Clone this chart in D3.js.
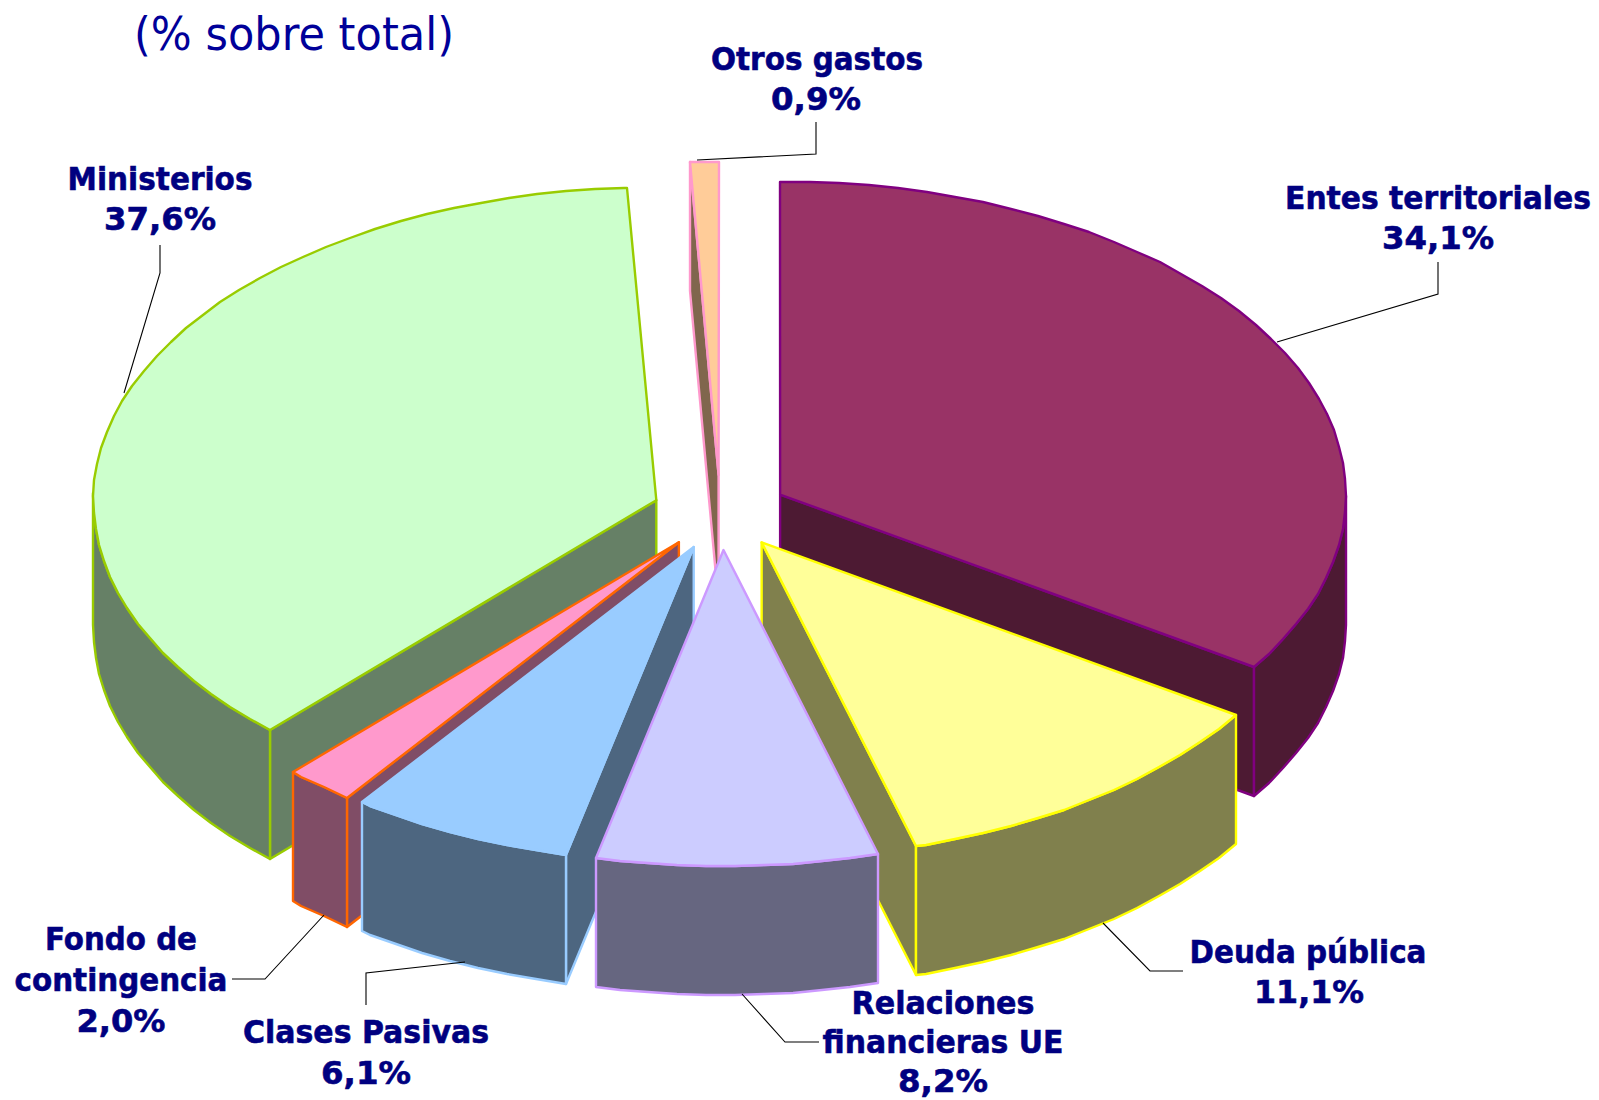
<!DOCTYPE html>
<html>
<head>
<meta charset="utf-8">
<script src="https://cdn.jsdelivr.net/npm/d3@7"></script>
<style>
  html, body { margin: 0; background: #fff; }
  svg { display: block; }
  text { font-family: "DejaVu Sans", sans-serif; fill: #000080; }
</style>
</head>
<body>
<div class="canvas"></div>
<script>
// Data
const categories = ['Entes territoriales', 'Deuda pública', 'Relaciones financieras UE', 'Clases Pasivas', 'Fondo de contingencia', 'Ministerios', 'Otros gastos'];
const shares = [34.1, 11.1, 8.2, 6.1, 2.0, 37.6, 0.9];

// Colours, same order as categories
const topColors = ['#993366', '#ffff99', '#ccccff', '#99ccff', '#ff99cc', '#ccffcc', '#ffcc99'];
const edgeColors = ['#800080', '#ffff00', '#cc99ff', '#99ccff', '#ff6600', '#99cc00', '#ff99cc'];

// Back to front
const drawOrder = [6, 0, 5, 4, 3, 1, 2];

// Label text lines with centre x, baseline and fitted width
const labelLines = [
  [['Entes territoriales', 1438, 209, 306], ['34,1%', 1438, 249, 112]],
  [['Deuda pública', 1308, 963, 237], ['11,1%', 1309, 1003, 110]],
  [['Relaciones', 943, 1014, 183], ['financieras UE', 943, 1053, 241], ['8,2%', 943, 1092, 90]],
  [['Clases Pasivas', 366, 1043, 246], ['6,1%', 366, 1084, 90]],
  [['Fondo de', 121, 950, 152], ['contingencia', 121, 991, 213], ['2,0%', 121, 1032, 89]],
  [['Ministerios', 160, 190, 185], ['37,6%', 160, 230, 112]],
  [['Otros gastos', 817, 70, 212], ['0,9%', 816, 110, 90]]
];

// Leader lines
const leaders = [
  [[1277, 342], [1438, 294], [1438, 262]],
  [[1103, 923], [1150, 971], [1183, 971]],
  [[742, 994], [785, 1042], [819, 1042]],
  [[465, 962], [366, 973], [366, 1005]],
  [[324, 915], [265, 979], [232, 979]],
  [[160, 245], [160, 273], [124, 393]],
  [[697, 160], [816, 154], [816, 122]]
];

// Pie geometry
const center = { x: 720.5, y: 512.5 };
const rxRight = 566;
const rxLeft = 563;
const ryBack = 313;
const ryFront = 316;
const depth = 129;
const explode = 0.12;
const step = Math.PI / 60;

// the front of the pie sits a little further round than its share, as in a perspective view
const toRad = Math.PI / 180;
const warp = d3.scaleLinear()
  .domain([0, 122.76, 162.7, 192.2, 214.2, 221.4, 356.8, 360].map((d) => d * toRad))
  .range([0, 0.3, 1.4, 0.85, 1.9, 1.9, 0.3, 0].map((d) => d * toRad));

const svg = d3.select('.canvas').append('svg').attr('width', 1599).attr('height', 1100);

const pie = d3.pie().sort(null).value((d) => d);
const slices = pie(shares);
const line = d3.line();

// angle (clockwise from top) on the rim of a slice whose tip is at o
const rimPoint = (angle, o) => {
  const a = angle + warp(angle);
  const rx = angle > Math.PI ? rxLeft : rxRight;
  const ry = Math.cos(a) < 0 ? ryFront : ryBack;
  return [Math.round(o.x + rx * Math.sin(a)), Math.round(o.y - ry * Math.cos(a))];
};

const arcPoints = (a0, a1, o) => {
  const angles = d3.range(a0, a1, step);
  angles.push(a1);
  return angles.map((a) => rimPoint(a, o));
};

const down = (p) => [p[0], p[1] + depth];

const face = (g, points, fill, edge) => {
  g.append('path')
    .attr('d', line(points) + 'Z')
    .attr('fill', fill)
    .attr('stroke', edge)
    .attr('stroke-width', 2.4)
    .attr('stroke-linejoin', 'round');
};

const graph = svg.append('g');

drawOrder.forEach((i) => {
  const s = slices[i];
  const mid = (s.startAngle + s.endAngle) / 2;
  const apex = [
    center.x + explode * rxRight * Math.sin(mid),
    center.y - explode * ryBack * Math.cos(mid)
  ];
  const o = { x: apex[0], y: apex[1] };
  const side = d3.interpolateRgb(topColors[i], '#000')(0.5);
  const edge = edgeColors[i];
  const g = graph.append('g').attr('class', 'slice');

  // radial walls, only those facing the viewer
  if (Math.sin(s.startAngle) < -0.001) {
    const p = rimPoint(s.startAngle, o);
    face(g, [apex, p, down(p), down(apex)], side, edge);
  }
  if (Math.sin(s.endAngle) > 0.001) {
    const p = rimPoint(s.endAngle, o);
    face(g, [apex, p, down(p), down(apex)], side, edge);
  }

  // outer wall, front half only
  const a0 = Math.max(s.startAngle, Math.PI / 2);
  const a1 = Math.min(s.endAngle, (3 * Math.PI) / 2);
  if (a1 > a0) {
    const rim = arcPoints(a0, a1, o);
    face(g, rim.concat(rim.map(down).reverse()), side, edge);
  }

  // top
  face(g, [apex].concat(arcPoints(s.startAngle, s.endAngle, o)), topColors[i], edge);
});

// Leaders
svg.append('g').selectAll('path')
  .data(leaders)
  .join('path')
  .attr('d', (d) => line(d))
  .attr('fill', 'none')
  .attr('stroke', '#000')
  .attr('stroke-width', 1.1);

// squeeze a text horizontally to the wanted width
const fitWidth = function (sel, x, y, width) {
  sel.each(function () {
    const scale = width / this.getComputedTextLength();
    d3.select(this).attr('transform', `translate(${x},${y}) scale(${scale},1)`);
  });
};

// Labels
svg.append('g').selectAll('text')
  .data(labelLines.flat())
  .join('text')
  .attr('text-anchor', 'middle')
  .attr('font-size', 32)
  .attr('font-weight', 'bold')
  .attr('stroke', '#000080')
  .attr('stroke-width', 0.6)
  .text((d) => d[0])
  .each(function (d) {
    d3.select(this).call(fitWidth, d[1], d[2], d[3]);
  });

// Title
svg.append('text')
  .attr('text-anchor', 'middle')
  .attr('font-size', 46)
  .style('fill', '#000099')
  .text('(% sobre total)')
  .call(fitWidth, 294, 50, 320);
</script>
</body>
</html>
